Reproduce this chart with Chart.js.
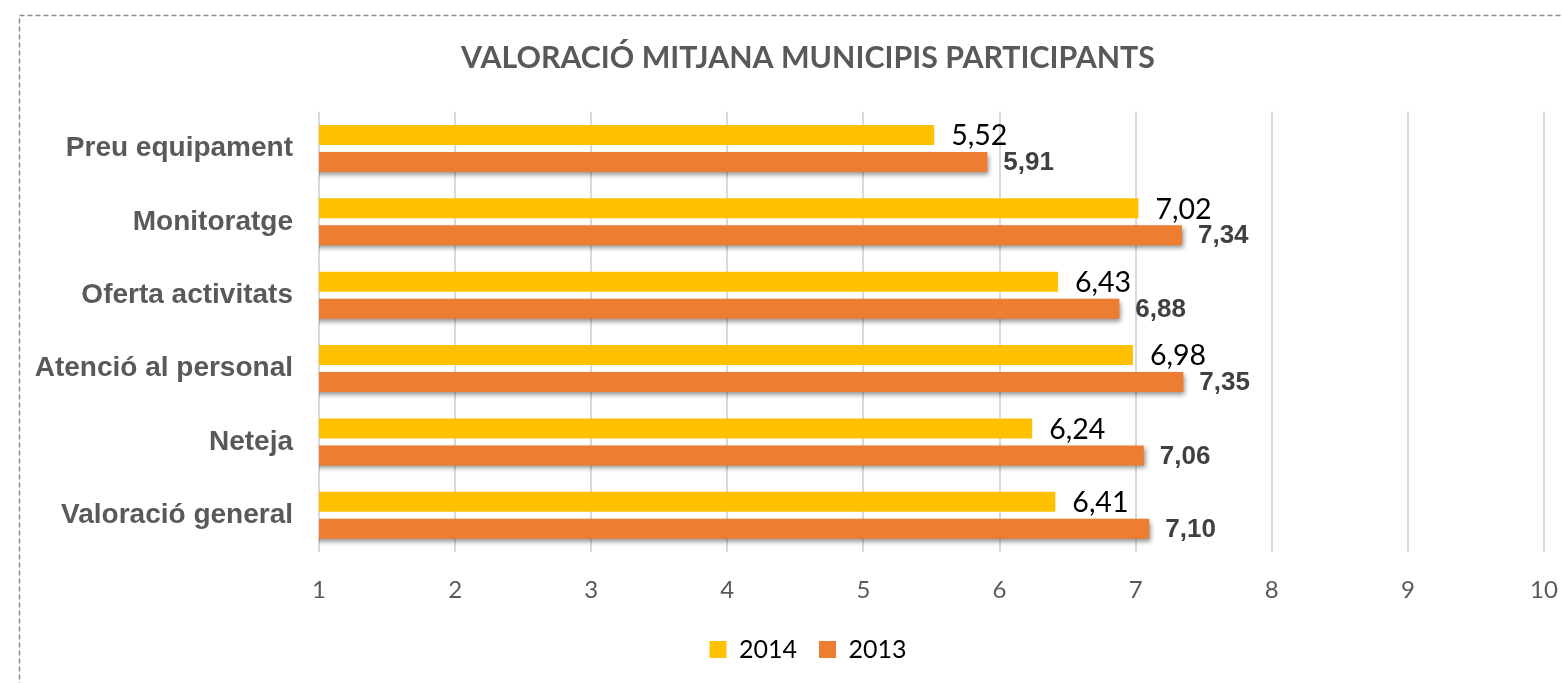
<!DOCTYPE html>
<html><head><meta charset="utf-8">
<script src="https://cdn.jsdelivr.net/npm/chart.js@4.4.0/dist/chart.umd.min.js"></script>
<style>html,body{margin:0;padding:0;background:#fff;overflow:hidden}</style>
</head><body>
<canvas id="c" width="1562" height="683"></canvas>
<script>
const categories = ['Preu equipament', 'Monitoratge', 'Oferta activitats', 'Atenció al personal', 'Neteja', 'Valoració general'];
const series2014 = [5.52, 7.02, 6.43, 6.98, 6.24, 6.41];
const series2013 = [5.91, 7.34, 6.88, 7.35, 7.06, 7.10];
const seriesNames = ['2014', '2013'];
const xTicks = [1, 2, 3, 4, 5, 6, 7, 8, 9, 10];
const titleText = 'VALORACIÓ MITJANA MUNICIPIS PARTICIPANTS';

// fit title size to the reference width
const mc = document.createElement('canvas').getContext('2d');
mc.font = 'bold 100px Lato';
const titleSize = Math.round(100 * 693 / mc.measureText(titleText).width * 10) / 10;
const titleLH = 1.2 * titleSize;
const titleCenter = 58, plotTop = 111.75;

const borderPlugin = {
  id: 'frame',
  beforeDraw(chart) {
    const c = chart.ctx;
    c.save();
    c.fillStyle = '#fff';
    c.fillRect(0, 0, chart.width, chart.height);
    c.setLineDash([5, 3]);
    c.strokeStyle = '#8c8c8c';
    c.lineWidth = 1.5;
    c.strokeRect(19.5, 15.5, 1700, 800);
    c.restore();
  }
};

const centerShift = {
  id: 'centerShift',
  afterLayout(chart) {
    if (chart.legend) chart.legend.left += 72;
    if (chart.titleBlock) chart.titleBlock.left += 72;
  }
};

const shadowPlugin = {
  id: 'barShadow',
  beforeDatasetDraw(chart, args) {
    if (args.index === 1) {
      const c = chart.ctx;
      c.save();
      c.shadowColor = 'rgba(0,0,0,0.45)';
      c.shadowBlur = 5;
      c.shadowOffsetX = 2;
      c.shadowOffsetY = 3;
    }
  },
  afterDatasetDraw(chart, args) {
    if (args.index === 1) chart.ctx.restore();
  }
};

const labelPlugin = {
  id: 'valueLabels',
  afterDatasetsDraw(chart) {
    const c = chart.ctx;
    c.save();
    c.textAlign = 'left';
    c.textBaseline = 'middle';
    chart.data.datasets.forEach((ds, di) => {
      const meta = chart.getDatasetMeta(di);
      if (meta.hidden) return;
      meta.data.forEach((bar, i) => {
        const txt = ds.data[i].toFixed(2).replace('.', ',');
        if (di === 0) {
          c.font = '28.5px Lato';
          c.fillStyle = '#000000';
          c.fillText(txt, bar.x + 17, bar.y + 1);
        } else {
          c.font = 'bold 26px "Liberation Sans", Arial, sans-serif';
          c.fillStyle = '#404040';
          c.fillText(txt, bar.x + 16, bar.y + 1);
        }
      });
    });
    c.restore();
  }
};

new Chart(document.getElementById('c'), {
  type: 'bar',
  data: {
    labels: categories,
    datasets: [
      { label: seriesNames[0], data: series2014, backgroundColor: '#FFC000', borderWidth: 0,
        categoryPercentage: 0.735, barPercentage: 0.74 },
      { label: seriesNames[1], data: series2013, backgroundColor: '#ED7D31', borderWidth: 0,
        categoryPercentage: 0.735, barPercentage: 0.74 }
    ]
  },
  plugins: [borderPlugin, centerShift, shadowPlugin, labelPlugin],
  options: {
    indexAxis: 'y',
    responsive: false,
    animation: false,
    devicePixelRatio: 1,
    layout: { padding: { left: 0, right: 18, top: 0, bottom: 11 } },
    scales: {
      x: {
        type: 'linear',
        min: 1, max: 10,
        afterBuildTicks(scale) { scale.ticks = xTicks.map(v => ({ value: v })); },
        afterFit(scale) { scale.height = 63; scale.paddingRight = 0; scale.paddingLeft = 0; },
        grid: { color: '#d9d9d9', lineWidth: 2, drawTicks: false },
        border: { display: false },
        ticks: { color: '#595959', font: { family: 'Lato', size: 24 }, padding: 24, maxRotation: 0 }
      },
      y: {
        afterFit(scale) { scale.width = 319; },
        grid: { display: false, drawTicks: false },
        border: { display: false },
        ticks: { color: '#595959', font: { family: '"Liberation Sans", Arial, sans-serif', size: 28, weight: 'bold' }, padding: 26 }
      }
    },
    plugins: {
      title: {
        display: true,
        text: titleText,
        color: '#595959',
        font: { family: 'Lato', size: titleSize, weight: 'bold', lineHeight: 1.2 },
        padding: { top: titleCenter - titleLH / 2, bottom: plotTop - titleCenter - titleLH / 2 }
      },
      legend: {
        position: 'bottom',
        labels: {
          color: '#000000',
          font: { family: 'Lato', size: 25 },
          boxWidth: 17, boxHeight: 17,
          padding: 22
        }
      },
      tooltip: { enabled: false }
    }
  }
});
</script>
</body></html>
